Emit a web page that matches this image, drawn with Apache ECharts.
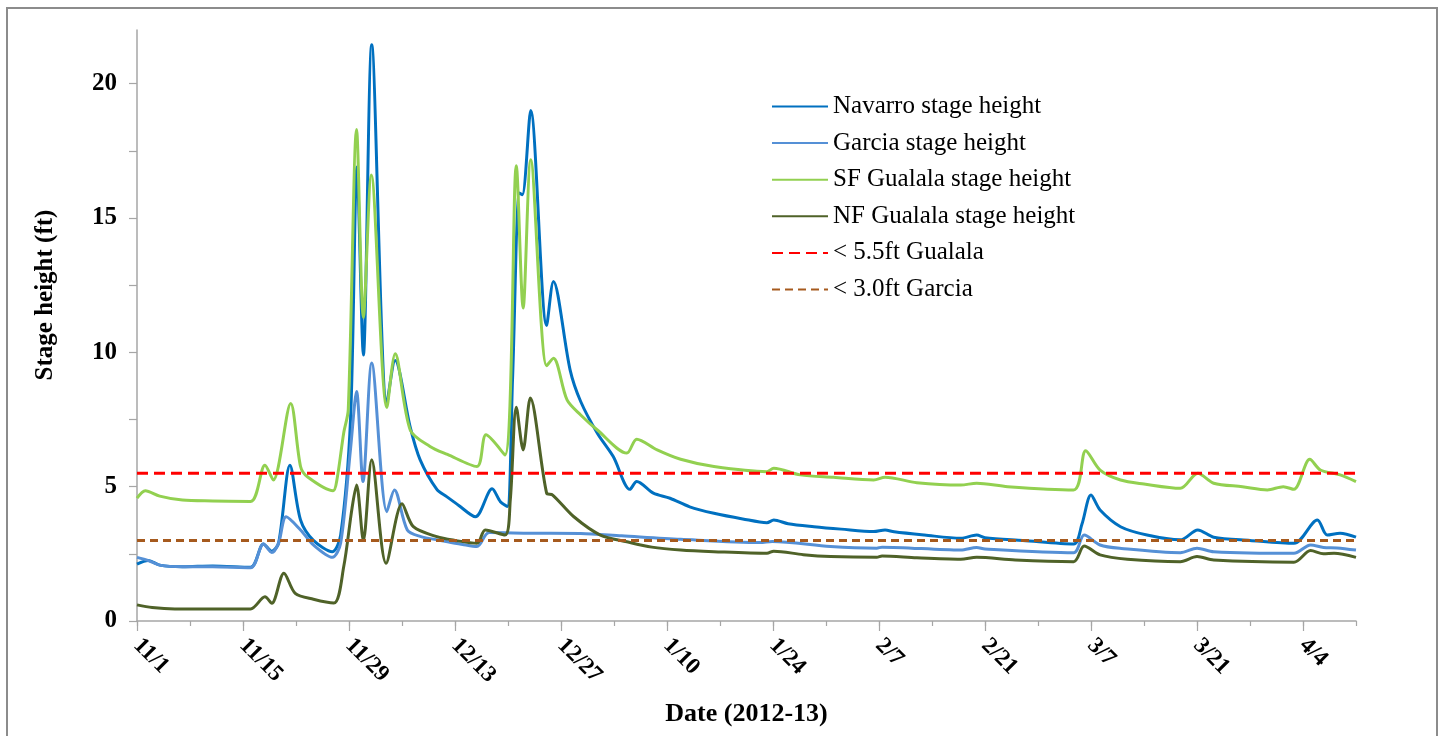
<!DOCTYPE html>
<html>
<head>
<meta charset="utf-8">
<script src="https://cdn.jsdelivr.net/npm/echarts@6/dist/echarts.min.js"></script>
<style>
html,body{margin:0;padding:0;background:#fff;}
#chart{width:1441px;height:736px;}
</style>
</head>
<body>
<div id="chart"></div>
<script>
// Day 0 = 11/1/2012
const xTickLabels = ['11/1','11/15','11/29','12/13','12/27','1/10','1/24','2/7','2/21','3/7','3/21','4/4'];
const yTickLabels = [0, 5, 10, 15, 20];
const seriesNames = ['Navarro stage height','Garcia stage height','SF Gualala stage height','NF Gualala stage height','< 5.5ft Gualala','< 3.0ft Garcia'];

const navarro = [[0,2.12],[1.5,2.25],[3,2.08],[6,2.02],[10,2.05],[15,2.0],[16.7,2.87],[17.8,2.6],[18.7,2.9],[20.2,5.8],[21.6,3.76],[23.3,3.0],[25.8,2.58],[26.9,3.2],[28.2,7.5],[29.05,16.9],[29.9,9.9],[31.0,21.45],[33,8.1],[34.1,9.7],[36.1,7.2],[37.4,6.0],[39.6,4.9],[40.9,4.63],[42.5,4.3],[44.7,3.88],[46.9,4.92],[48,4.44],[48.9,4.26],[49.6,9.0],[50.5,15.93],[50.9,15.87],[52.0,19.0],[54.1,11.0],[55.0,12.64],[57.2,9.35],[58.6,8.17],[60.8,6.99],[62.9,6.12],[65.1,4.9],[66,5.19],[68.2,4.76],[70.4,4.57],[73,4.25],[76.2,4.01],[80,3.8],[83.2,3.66],[84.1,3.76],[86,3.62],[89.4,3.51],[93,3.42],[97.3,3.33],[98.8,3.39],[100,3.32],[104,3.2],[108.8,3.08],[110.9,3.2],[112,3.1],[117,3.0],[123.7,2.87],[124.8,3.6],[126,4.69],[127.2,4.13],[129.9,3.51],[133.4,3.2],[137.8,3.02],[140.1,3.39],[142.2,3.12],[147,3.0],[152.8,2.89],[155.9,3.76],[157.2,3.2],[158.9,3.27],[161,3.12]];

const garcia = [[0,2.37],[1.5,2.25],[3,2.08],[6,2.02],[10,2.02],[15,1.98],[16.7,2.87],[17.8,2.55],[18.7,2.9],[19.7,3.88],[21.6,3.39],[23.3,2.83],[25.8,2.37],[26.9,2.9],[28.2,6.4],[29,8.54],[29.85,5.19],[31.0,9.6],[33,4.07],[34,4.88],[35.7,3.39],[37.4,3.15],[40.1,3.0],[43,2.85],[44.9,2.77],[46.5,3.29],[52,3.27],[58.6,3.26],[64,3.17],[71.8,3.04],[82.3,2.92],[83.9,2.96],[91.6,2.77],[97.7,2.71],[98.4,2.75],[108.8,2.64],[110.9,2.74],[112,2.68],[123.7,2.54],[125.1,3.2],[127.2,2.83],[130,2.7],[137.8,2.54],[140,2.71],[142.2,2.58],[152.8,2.52],[155,2.83],[156.7,2.74],[158.5,2.72],[161,2.64]];

const sfGualala = [[0,4.57],[1.1,4.85],[3,4.65],[6,4.5],[10,4.47],[15,4.45],[16.9,5.8],[18,5.25],[20.3,8.1],[21.6,5.75],[22.5,5.37],[25.9,4.85],[26.4,5.25],[27.3,7.0],[27.9,7.86],[29,18.3],[29.9,11.3],[30.95,16.6],[33,7.95],[34.1,9.95],[36.1,7.1],[38.7,6.5],[41,6.2],[44.9,5.75],[46.1,6.93],[48.6,6.18],[50.1,16.95],[51,11.65],[52,17.17],[54.1,9.5],[55,9.78],[56.8,8.23],[58.6,7.67],[60.8,7.11],[64.7,6.25],[66,6.77],[68.7,6.37],[71.8,6.02],[76.2,5.75],[83.2,5.56],[84.1,5.69],[87.6,5.44],[92,5.35],[97.3,5.25],[98.8,5.35],[103,5.15],[108.8,5.06],[110.9,5.13],[115,5.0],[123.7,4.88],[125.3,6.34],[127.2,5.62],[129.9,5.25],[133,5.1],[137.8,4.94],[140.1,5.5],[142.2,5.13],[146,5.0],[149.3,4.88],[151.4,5.0],[152.8,4.9],[154.9,6.02],[156.3,5.62],[158.9,5.44],[161,5.19]];

const nfGualala = [[0,0.6],[2,0.5],[5,0.45],[10,0.45],[15,0.45],[16.9,0.9],[17.8,0.66],[19.4,1.78],[20.9,1.03],[23.3,0.81],[26,0.67],[27.3,2.02],[28.4,4.2],[29,5.06],[29.9,3.0],[31,6.0],[32.9,2.15],[35,4.36],[36.5,3.51],[39.6,3.14],[42,3.0],[44.9,2.89],[46,3.39],[48.6,3.2],[49.3,4.5],[50.1,7.96],[51,6.37],[51.95,8.3],[54.1,4.76],[54.9,4.69],[57.7,3.88],[61.2,3.2],[64.7,2.95],[68,2.75],[71.8,2.64],[76.2,2.58],[83.2,2.52],[84.1,2.6],[88,2.47],[91.6,2.4],[97.7,2.37],[98.4,2.42],[103,2.35],[108.8,2.3],[110.9,2.37],[116,2.27],[123.7,2.21],[125.1,2.79],[127.2,2.46],[130.8,2.3],[137.8,2.21],[140,2.4],[142.2,2.27],[152.8,2.19],[155,2.62],[156.7,2.5],[158.1,2.52],[161,2.37]];

const gualalaThreshold = [[0,5.5],[161,5.5]];
const garciaThreshold = [[0,3.0],[161,3.0]];

const X_MAX = 161;
const majorDays = xTickLabels.map((_, i) => i * 14);
const minorDays = [];
for (let d = 0; d <= X_MAX; d += 7) minorDays.push(d);
const yTickValues = [0,2.5,5,7.5,10,12.5,15,17.5,20];

const chart = echarts.init(document.getElementById('chart'), null, {renderer: 'canvas'});
const serif = 'Liberation Serif, Times New Roman, serif';

function lineSeries(name, data, color, width, dash) {
  return {
    name: name, type: 'line', data: data, xAxisIndex: 0, yAxisIndex: 0,
    symbol: 'none', smooth: dash ? false : 0.3,
    lineStyle: {color: color, width: width, type: dash || 'solid', join: 'round'},
    itemStyle: {color: color},
    emphasis: {disabled: true}, silent: true, animation: false
  };
}

chart.setOption({
  animation: false,
  backgroundColor: '#ffffff',
  grid: {left: 137, right: 85, top: 30, bottom: 115, containLabel: false},
  legend: {
    orient: 'vertical', left: 766, top: 89,
    itemWidth: 56, itemHeight: 14, itemGap: 11.6,
    itemStyle: {opacity: 0},
    textStyle: {fontFamily: serif, fontSize: 25, color: '#000', lineHeight: 24.5},
    data: seriesNames
  },
  xAxis: [{
    type: 'value', min: 0, max: X_MAX, interval: 7, position: 'bottom',
    name: 'Date (2012-13)', nameLocation: 'middle', nameGap: 80,
    nameTextStyle: {fontFamily: serif, fontSize: 26, fontWeight: 'bold', color: '#000'},
    axisLine: {show: true, onZero: false, lineStyle: {color: '#a6a6a6', width: 1.5}},
    axisTick: {show: true, length: 5, customValues: minorDays, lineStyle: {color: '#a6a6a6', width: 1.2}},
    axisLabel: {
      show: true, customValues: majorDays, rotate: -45, margin: 21,
      fontFamily: serif, fontSize: 23, fontWeight: 'bold', color: '#000',
      formatter: function (v) { const i = Math.round(v / 14); return xTickLabels[i] || ''; }
    },
    splitLine: {show: false}
  }, {
    type: 'value', min: 0, max: X_MAX, interval: 14, position: 'bottom', offset: 0,
    axisLine: {show: false},
    axisTick: {show: true, length: 10, customValues: majorDays, lineStyle: {color: '#a6a6a6', width: 1.2}},
    axisLabel: {show: false},
    splitLine: {show: false}
  }],
  yAxis: {
    type: 'value', min: 0, max: 22, interval: 2.5,
    axisLine: {show: true, lineStyle: {color: '#a6a6a6', width: 1.5}},
    axisTick: {show: true, length: 8, customValues: yTickValues, lineStyle: {color: '#a6a6a6', width: 1.2}},
    axisLabel: {
      customValues: yTickLabels, margin: 20,
      fontFamily: serif, fontSize: 25, fontWeight: 'bold', color: '#000'
    },
    splitLine: {show: false}
  },
  graphic: [
    {type: 'rect', shape: {x: 7, y: 8, width: 1430, height: 740}, style: {fill: 'none', stroke: '#8c8c8c', lineWidth: 2}, silent: true, z: -1},
    {type: 'text', x: 46, y: 295, rotation: Math.PI / 2,
     style: {text: 'Stage height (ft)', fontFamily: serif, fontSize: 25, fontWeight: 'bold', fill: '#000', align: 'center', verticalAlign: 'middle'}}
  ],
  series: [
    lineSeries(seriesNames[0], navarro, '#0070C0', 3, null),
    lineSeries(seriesNames[1], garcia, '#5590D6', 3, null),
    lineSeries(seriesNames[2], sfGualala, '#92D050', 3, null),
    lineSeries(seriesNames[3], nfGualala, '#4F6228', 3, null),
    lineSeries(seriesNames[4], gualalaThreshold, '#FF0000', 3, [11, 6]),
    lineSeries(seriesNames[5], garciaThreshold, '#A65A1E', 3, [8, 5])
  ]
});
</script>
</body>
</html>
